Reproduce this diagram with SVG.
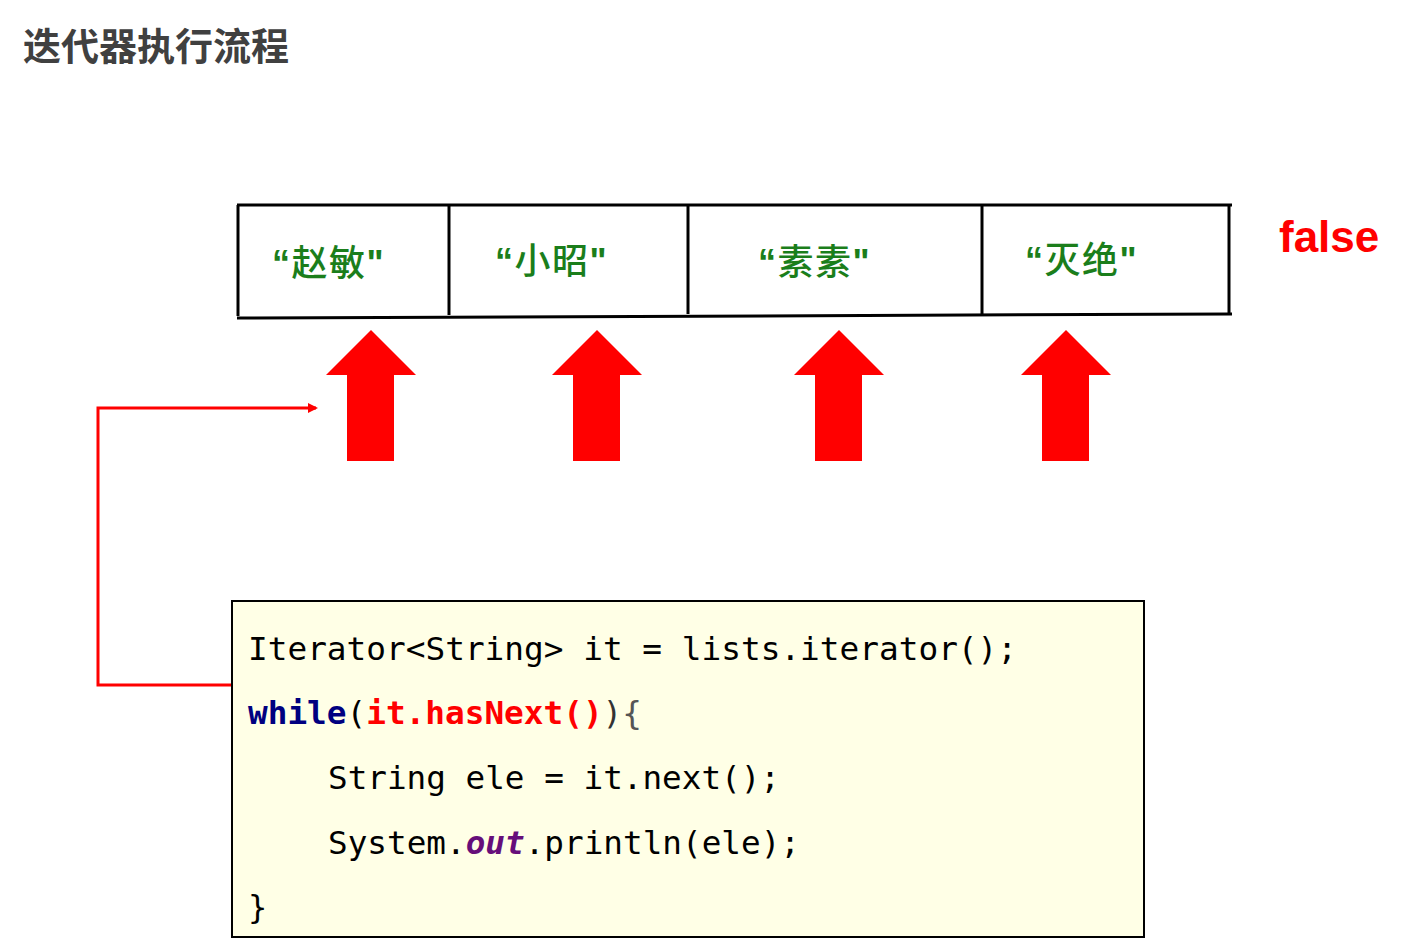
<svg xmlns="http://www.w3.org/2000/svg" width="1403" height="949" viewBox="0 0 1403 949">
<style>
.title{font-family:"Noto Sans CJK SC","Noto Sans",sans-serif;font-size:38px;font-weight:bold;fill:#404040}
.cell{font-family:"Liberation Sans","Noto Sans CJK SC",sans-serif;font-size:36px;font-weight:bold;fill:#1b7e1b;letter-spacing:1.5px}
.cj{font-family:"Noto Sans CJK SC",sans-serif;font-weight:500}
.tbl{stroke:#000;stroke-width:3;fill:none}
.big{fill:#ff0000}
.code{font-family:"DejaVu Sans Mono","Liberation Mono",monospace;font-size:32px;fill:#000}
.kw{fill:#000080;font-weight:bold}
.rd{fill:#ff0000;font-weight:bold}
.out{fill:#660e7a;font-weight:bold;font-style:italic}
.conn{stroke:#ff0000;stroke-width:3;fill:none}
</style>
<defs>
<marker id="ah" markerWidth="10" markerHeight="10" refX="8" refY="5" orient="auto" markerUnits="userSpaceOnUse" viewBox="0 0 10 10">
<path d="M0,0 L10,5 L0,10 Z" fill="#ff0000"/>
</marker>
<path id="uparrow" d="M0,0 L45,45 L23,45 L23,131 L-24,131 L-24,45 L-45,45 Z"/>
</defs>
<rect width="1403" height="949" fill="#fff"/>
<text class="title" x="23" y="60">迭代器执行流程</text>

<g id="table">
<line class="tbl" x1="237" y1="205" x2="1232" y2="205"/>
<line class="tbl" x1="237" y1="318" x2="1232" y2="314"/>
<line class="tbl" x1="238" y1="205" x2="238" y2="316"/>
<line class="tbl" x1="449" y1="205" x2="449" y2="315"/>
<line class="tbl" x1="688" y1="205" x2="688" y2="314"/>
<line class="tbl" x1="982" y1="205" x2="982" y2="314"/>
<line class="tbl" x1="1229" y1="205" x2="1229" y2="313"/>
</g>
<g id="cell1"><text class="cell" x="272" y="276">“<tspan class="cj">赵敏</tspan>"</text></g>
<g id="cell2"><text class="cell" x="495" y="274">“<tspan class="cj">小昭</tspan>"</text></g>
<g id="cell3"><text class="cell" x="758" y="275">“<tspan class="cj">素素</tspan>"</text></g>
<g id="cell4"><text class="cell" x="1025" y="273">“<tspan class="cj">灭绝</tspan>"</text></g>
<g id="false"><text x="1279" y="252" style="font-family:'Liberation Sans',sans-serif;font-size:44px;font-weight:bold;fill:#ff0000">false</text></g>

<g id="arrow1"><use href="#uparrow" class="big" x="371" y="330"/></g>
<g id="arrow2"><use href="#uparrow" class="big" x="597" y="330"/></g>
<g id="arrow3"><use href="#uparrow" class="big" x="839" y="330"/></g>
<g id="arrow4"><use href="#uparrow" class="big" x="1066" y="330"/></g>

<g id="connectors">
<polyline class="conn" points="232,685 98,685 98,408 316,408" marker-end="url(#ah)"/>
</g>

<g id="codebox">
<rect x="232" y="601" width="912" height="336" fill="#ffffe6" stroke="#000" stroke-width="2"/>
<text class="code" x="248" y="660" textLength="769" lengthAdjust="spacingAndGlyphs">Iterator&lt;String&gt; it = lists.iterator();</text>
<text class="code" x="248" y="724" textLength="394" lengthAdjust="spacingAndGlyphs"><tspan class="kw">while</tspan>(<tspan class="rd">it.hasNext()</tspan><tspan fill="#333">)</tspan><tspan fill="#555">{</tspan></text>
<text class="code" x="328" y="789" textLength="452" lengthAdjust="spacingAndGlyphs">String ele = it.next();</text>
<text class="code" x="328" y="854" textLength="472" lengthAdjust="spacingAndGlyphs">System.<tspan class="out">out</tspan>.println(ele);</text>
<text class="code" x="248" y="918">}</text>
</g>
</svg>
